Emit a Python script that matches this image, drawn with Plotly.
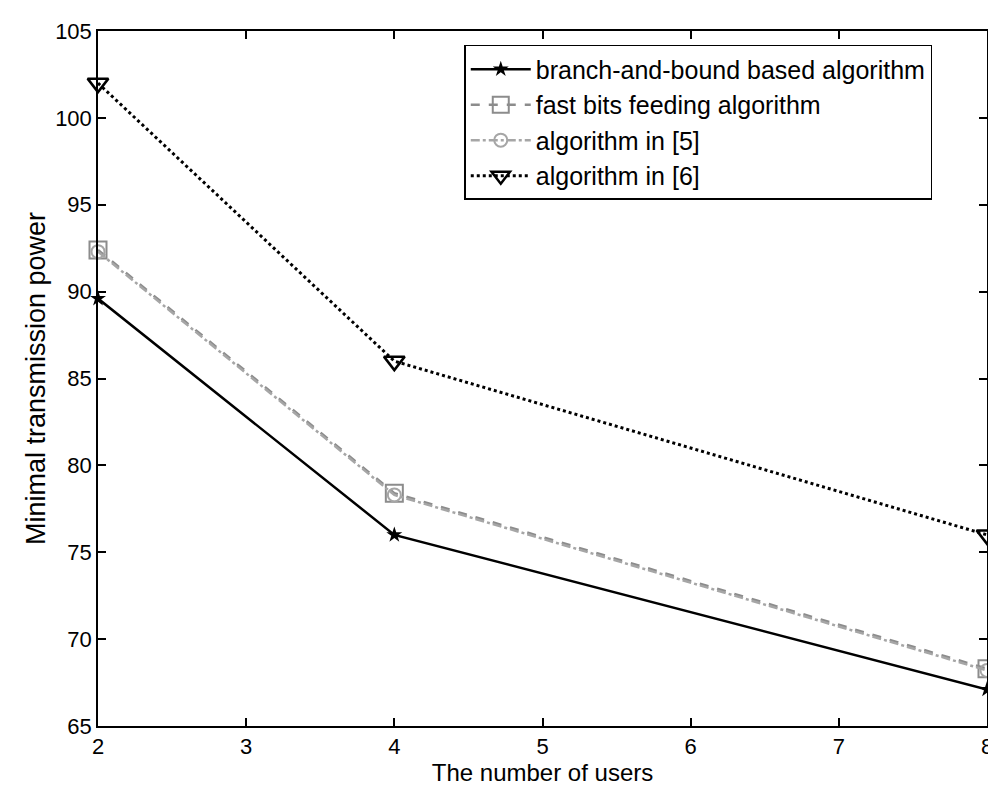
import plotly.graph_objects as go

users = [2, 4, 8]
branch_bound = [89.6, 76.0, 67.1]
fast_bits = [92.4, 78.4, 68.3]
alg5 = [92.3, 78.3, 68.2]
alg6 = [102.0, 86.0, 76.0]

FONT = "Liberation Sans, Arial, Helvetica"

fig = go.Figure()
fig.add_trace(go.Scatter(x=users, y=branch_bound, mode="lines+markers",
                         name="branch-and-bound based algorithm",
                         line=dict(color="black", width=2.5),
                         marker=dict(symbol="star", size=12, color="black")))
fig.add_trace(go.Scatter(x=users, y=fast_bits, mode="lines+markers",
                         name="fast bits feeding algorithm",
                         line=dict(color="#8c8c8c", width=2.5, dash="dash"),
                         marker=dict(symbol="square-open", size=17, color="#8c8c8c",
                                     line=dict(width=2))))
fig.add_trace(go.Scatter(x=users, y=alg5, mode="lines+markers",
                         name="algorithm in [5]",
                         line=dict(color="#a6a6a6", width=2.5, dash="dashdot"),
                         marker=dict(symbol="circle-open", size=13, color="#a6a6a6",
                                     line=dict(width=2))))
fig.add_trace(go.Scatter(x=users, y=alg6, mode="lines+markers",
                         name="algorithm in [6]",
                         line=dict(color="black", width=3, dash="dot"),
                         marker=dict(symbol="triangle-down-open", size=18, color="black",
                                     line=dict(width=2.5))))

axis_common = dict(showgrid=False, zeroline=False, showline=True, linecolor="black",
                   linewidth=1.5, mirror="ticks", ticks="inside", ticklen=8,
                   tickcolor="black", tickwidth=1.5,
                   tickfont=dict(family=FONT, size=22, color="black"))

fig.update_layout(
    width=996, height=791,
    margin=dict(l=90, r=11, t=17, b=73),
    paper_bgcolor="white", plot_bgcolor="white",
    showlegend=True,
    legend=dict(x=0.412, y=0.98, xanchor="left", yanchor="top",
                bgcolor="white", bordercolor="black", borderwidth=1.5,
                font=dict(family=FONT, size=25, color="black"),
                itemwidth=60, tracegroupgap=0),
    xaxis=dict(range=[2, 8], tickvals=[2, 3, 4, 5, 6, 7, 8],
               title=dict(text="The number of users",
                          font=dict(family=FONT, size=24, color="black"),
                          standoff=0),
               **axis_common),
    yaxis=dict(range=[65, 105], tickvals=[65, 70, 75, 80, 85, 90, 95, 100, 105],
               title=dict(text="Minimal transmission power",
                          font=dict(family=FONT, size=27, color="black"),
                          standoff=2),
               **axis_common),
)
for tr in fig.data:
    tr.cliponaxis = False

fig.write_html("out.html")
